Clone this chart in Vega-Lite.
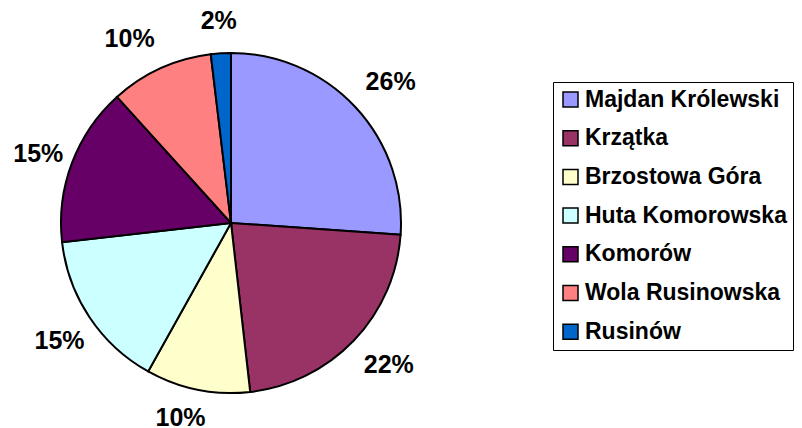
{
  "$schema": "https://vega.github.io/schema/vega-lite/v6.json",
  "autosize": "none",
  "width": 462,
  "height": 446,
  "padding": {"left": 0, "top": 0, "right": 340, "bottom": -18},
  "background": "white",
  "data": {
    "values": [
      {"idx": 1, "place": "Majdan Królewski", "share": 0.261},
      {"idx": 2, "place": "Krzątka", "share": 0.221},
      {"idx": 3, "place": "Brzostowa Góra", "share": 0.099},
      {"idx": 4, "place": "Huta Komorowska", "share": 0.151},
      {"idx": 5, "place": "Komorów", "share": 0.151},
      {"idx": 6, "place": "Wola Rusinowska", "share": 0.098},
      {"idx": 7, "place": "Rusinów", "share": 0.019}
    ]
  },
  "encoding": {
    "theta": {"field": "share", "type": "quantitative", "stack": true},
    "order": {"field": "idx", "type": "quantitative"}
  },
  "layer": [
    {
      "mark": {"type": "arc", "outerRadius": 170, "stroke": "black", "strokeWidth": 2},
      "encoding": {
        "color": {
          "field": "place",
          "type": "nominal",
          "scale": {
            "domain": ["Majdan Królewski", "Krzątka", "Brzostowa Góra", "Huta Komorowska", "Komorów", "Wola Rusinowska", "Rusinów"],
            "range": ["#9999FF", "#993366", "#FFFFCC", "#CCFFFF", "#660066", "#FF8080", "#0066CC"]
          },
          "legend": {
            "title": null,
            "orient": "none",
            "legendX": 553,
            "legendY": 82,
            "padding": 6,
            "strokeColor": "black",
            "symbolType": "square",
            "symbolSize": 225,
            "symbolStrokeColor": "black",
            "symbolStrokeWidth": 1.5,
            "symbolOpacity": 1,
            "labelFont": "Liberation Sans",
            "labelFontWeight": "bold",
            "labelFontSize": 23,
            "labelColor": "black",
            "labelOffset": 3,
            "labelLimit": 400,
            "rowPadding": 14.7
          }
        }
      }
    },
    {
      "mark": {"type": "text", "radius": 206, "dx": 9, "font": "Liberation Sans", "fontWeight": "bold", "fontSize": 25, "align": "center", "baseline": "middle"},
      "encoding": {
        "text": {"condition": {"test": "datum.idx <= 2", "field": "share", "type": "quantitative", "format": ".0%"}, "value": ""},
        "color": {"value": "black"}
      }
    },
    {
      "mark": {"type": "text", "radius": 206, "dx": -10, "dy": -7, "font": "Liberation Sans", "fontWeight": "bold", "fontSize": 25, "align": "center", "baseline": "middle"},
      "encoding": {
        "text": {"condition": {"test": "datum.idx == 3", "field": "share", "type": "quantitative", "format": ".0%"}, "value": ""},
        "color": {"value": "black"}
      }
    },
    {
      "mark": {"type": "text", "radius": 206, "dx": -16, "dy": 3, "font": "Liberation Sans", "fontWeight": "bold", "fontSize": 25, "align": "center", "baseline": "middle"},
      "encoding": {
        "text": {"condition": {"test": "datum.idx == 6", "field": "share", "type": "quantitative", "format": ".0%"}, "value": ""},
        "color": {"value": "black"}
      }
    },
    {
      "mark": {"type": "text", "radius": 206, "dy": 4, "font": "Liberation Sans", "fontWeight": "bold", "fontSize": 25, "align": "center", "baseline": "middle"},
      "encoding": {
        "text": {"condition": {"test": "datum.idx == 4 || datum.idx == 5 || datum.idx == 7", "field": "share", "type": "quantitative", "format": ".0%"}, "value": ""},
        "color": {"value": "black"}
      }
    }
  ],
  "config": {"view": {"stroke": null}}
}
